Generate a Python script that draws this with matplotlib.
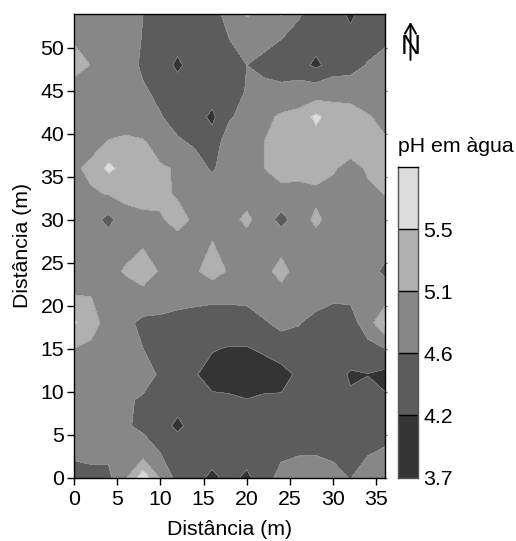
import matplotlib
matplotlib.use("Agg")
import matplotlib.pyplot as plt
import numpy as np

plt.rcParams['font.family'] = ['Liberation Sans', 'DejaVu Sans']

x_dist = [0, 2, 4, 6, 8, 10, 12, 14, 16, 18, 20, 22, 24, 26, 28, 30, 32, 34, 36]
y_dist = [0, 3, 6, 9, 12, 15, 18, 21, 24, 27, 30, 33, 36, 39, 42, 45, 48, 51, 54]

ph_y54 = [4.85, 4.85, 4.85, 4.80, 4.60, 4.40, 4.40, 4.40, 4.45, 4.75, 5.14, 5.00, 5.14, 4.65, 4.40, 4.35, 4.13, 4.35, 4.35]
ph_y51 = [5.05, 4.90, 4.85, 4.75, 4.58, 4.40, 4.35, 4.40, 4.45, 4.60, 4.85, 4.75, 4.60, 4.45, 4.35, 4.35, 4.30, 4.40, 4.50]
ph_y48 = [5.32, 5.08, 4.85, 4.80, 4.52, 4.40, 4.12, 4.40, 4.42, 4.45, 4.60, 4.45, 4.40, 4.35, 4.12, 4.35, 4.40, 4.63, 4.80]
ph_y45 = [4.85, 4.85, 4.85, 4.80, 4.65, 4.50, 4.40, 4.35, 4.40, 4.45, 4.62, 4.75, 4.70, 4.78, 4.82, 4.90, 4.90, 4.85, 4.85]
ph_y42 = [4.85, 4.85, 4.85, 4.85, 4.75, 4.62, 4.45, 4.35, 4.12, 4.55, 4.75, 4.98, 5.17, 5.25, 5.58, 5.35, 5.30, 5.13, 5.00]
ph_y39 = [4.85, 4.95, 5.13, 5.20, 5.15, 4.90, 4.65, 4.55, 4.35, 4.85, 4.90, 5.10, 5.30, 5.35, 5.35, 5.35, 5.35, 5.25, 5.14]
ph_y36 = [5.03, 5.20, 5.60, 5.35, 5.25, 5.15, 5.06, 4.75, 4.55, 4.80, 4.90, 5.10, 5.30, 5.30, 5.35, 5.15, 4.95, 5.15, 5.30]
ph_y33 = [4.90, 5.05, 5.12, 5.20, 5.25, 5.20, 5.05, 4.85, 4.80, 4.85, 4.90, 4.95, 4.95, 4.90, 4.97, 4.95, 4.85, 5.02, 5.11]
ph_y30 = [4.85, 4.80, 4.45, 4.95, 5.00, 5.05, 5.25, 5.02, 4.95, 4.95, 5.20, 4.85, 4.43, 4.85, 5.20, 4.90, 4.85, 4.85, 4.85]
ph_y27 = [4.85, 4.85, 4.90, 4.95, 5.07, 4.85, 4.90, 4.85, 5.13, 4.90, 4.85, 4.85, 5.00, 4.85, 4.85, 4.85, 4.85, 4.85, 4.75]
ph_y24 = [4.90, 4.90, 4.95, 5.15, 5.30, 5.06, 4.85, 5.03, 5.30, 5.05, 4.85, 5.00, 5.21, 4.95, 4.85, 4.85, 4.80, 4.75, 4.52]
ph_y21 = [5.12, 5.10, 4.95, 4.85, 4.95, 4.85, 4.75, 4.72, 4.70, 4.68, 4.70, 4.85, 4.95, 4.85, 4.75, 4.65, 4.68, 4.85, 4.85]
ph_y18 = [5.55, 5.28, 4.92, 4.72, 4.48, 4.48, 4.45, 4.40, 4.35, 4.40, 4.40, 4.55, 4.72, 4.62, 4.48, 4.45, 4.40, 4.85, 5.55]
ph_y15 = [5.10, 5.00, 4.85, 4.72, 4.60, 4.45, 4.35, 4.30, 4.22, 4.18, 4.18, 4.25, 4.35, 4.45, 4.45, 4.45, 4.40, 4.45, 4.60]
ph_y12 = [4.85, 4.85, 4.85, 4.80, 4.75, 4.55, 4.35, 4.22, 4.10, 4.05, 4.00, 4.05, 4.10, 4.25, 4.35, 4.35, 4.16, 4.19, 4.10]
ph_y9  = [4.85, 4.85, 4.85, 4.65, 4.55, 4.42, 4.35, 4.30, 4.25, 4.25, 4.21, 4.25, 4.24, 4.35, 4.40, 4.40, 4.25, 4.35, 4.25]
ph_y6  = [4.85, 4.85, 4.85, 4.65, 4.50, 4.35, 4.12, 4.35, 4.35, 4.40, 4.40, 4.40, 4.40, 4.40, 4.40, 4.40, 4.40, 4.40, 4.40]
ph_y3  = [4.65, 4.70, 4.70, 4.80, 4.85, 4.58, 4.45, 4.40, 4.35, 4.35, 4.35, 4.40, 4.50, 4.55, 4.55, 4.50, 4.45, 4.55, 4.65]
ph_y0  = [4.50, 4.50, 4.50, 5.05, 5.75, 5.05, 4.40, 4.30, 4.13, 4.30, 4.13, 4.40, 4.75, 4.85, 4.90, 4.75, 4.58, 4.85, 4.85]

levels = [3.7, 4.2, 4.6, 5.1, 5.5, 5.9]
level_labels = ['3.7', '4.2', '4.6', '5.1', '5.5']
grays = ['#343434', '#5c5c5c', '#878787', '#b0b0b0', '#dcdcdc']

Z = np.array([ph_y0, ph_y3, ph_y6, ph_y9, ph_y12, ph_y15, ph_y18, ph_y21, ph_y24, ph_y27,
              ph_y30, ph_y33, ph_y36, ph_y39, ph_y42, ph_y45, ph_y48, ph_y51, ph_y54])

W, H = 516, 541
fig = plt.figure(figsize=(W / 100, H / 100), dpi=100)
fs = 15.3

def box(l, t, r, b):
    return [l / W, 1 - b / H, (r - l) / W, (b - t) / H]

ax = fig.add_axes(box(74, 13.5, 385, 477.5))
ax.contourf(x_dist, y_dist, Z, levels=levels, colors=grays)
ax.contour(x_dist, y_dist, Z, levels=levels[1:-1], colors='#a0a0a0', linewidths=0.3)
ax.set_xlim(0, 36)
ax.set_ylim(0, 54)
ax.set_xticks(range(0, 36, 5))
ax.set_yticks(range(0, 51, 5))
ax.tick_params(labelsize=fs, length=5, width=1)
ax.tick_params(axis='x', pad=4)
ax.tick_params(axis='y', pad=2)
ax.set_xlabel('Distância (m)', fontsize=fs, labelpad=8)
ax.set_ylabel('Distância (m)', fontsize=fs, labelpad=6)
for s in ax.spines.values():
    s.set_linewidth(1)
right_side = ax.secondary_yaxis('right')
right_side.set_yticks(range(0, 51, 5))
right_side.set_yticklabels([])
right_side.tick_params(length=1.5, width=0.8, color='#666666')
right_side.spines['right'].set_visible(False)

# colour key
cax = fig.add_axes(box(398, 167, 418, 477.5))
key_pos = np.arange(len(grays))
cax.bar(key_pos * 0 + 0.5, [1] * len(grays), bottom=key_pos, width=1, color=grays, linewidth=0)
cax.set_xlim(0, 1)
cax.set_ylim(0, len(grays))
cax.set_xticks([])
cax.set_yticks(key_pos)
cax.set_yticklabels(level_labels, fontsize=fs)
cax.yaxis.tick_right()
cax.tick_params(length=0, pad=4)
for lv in key_pos[1:]:
    cax.axhline(lv, color='black', lw=1)
for s in cax.spines.values():
    s.set_color('#555555')
    s.set_linewidth(1)
cax.spines['top'].set_color('black')
fig.text(398 / W, 1 - 147 / H, 'pH em àgua', fontsize=fs, va='center', ha='left')

# north arrow
fig.text(410.5 / W, 1 - 47.5 / H, 'N', fontsize=20, ha='center', va='center')
fig.add_artist(matplotlib.patches.FancyArrowPatch(
    (410.5 / W, 1 - 60 / H), (410.5 / W, 1 - 22 / H), transform=fig.transFigure,
    arrowstyle='->,head_length=7,head_width=4', mutation_scale=1, lw=1.4, color='black',
    shrinkA=0, shrinkB=0))

fig.savefig('out.png', dpi=100)
